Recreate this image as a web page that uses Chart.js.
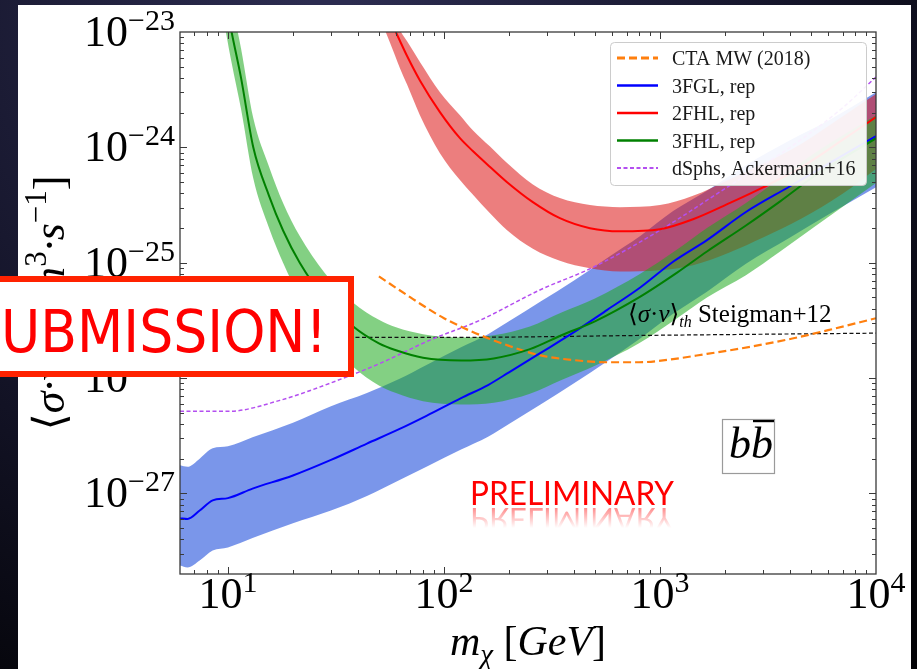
<!DOCTYPE html>
<html>
<head>
<meta charset="utf-8">
<script src="https://cdn.jsdelivr.net/npm/chart.js@4.4.1/dist/chart.umd.min.js"></script>
<style>
html, body { margin: 0; padding: 0; background: #0b0b16; }
canvas { display: block; }
</style>
</head>
<body>
<canvas id="sigmav" width="917" height="669"></canvas>
<script>
// values: mass in GeV, <sigma v> in cm^3/s

// 3FGL, rep (blue)
const mass3FGL = [6, 6.5, 7.4, 8.5, 10, 13, 20, 30, 44, 62, 83, 120, 160, 200, 280, 400, 570, 810, 1150, 1650, 2500, 4000, 6000, 10000];
const fgl3 = [6.1e-28, 6.0e-28, 7.1e-28, 8.7e-28, 9.1e-28, 1.1e-27, 1.43e-27, 1.95e-27, 2.7e-27, 3.6e-27, 4.7e-27, 6.7e-27, 8.7e-27, 1.12e-26, 1.65e-26, 2.5e-26, 3.9e-26, 6.1e-26, 1.02e-25, 1.57e-25, 2.75e-25, 4.6e-25, 7.2e-25, 1.25e-24];
const fgl3Hi = [1.75e-27, 1.7e-27, 2.0e-27, 2.46e-27, 2.56e-27, 3.06e-27, 4.1e-27, 5.7e-27, 7.4e-27, 9.8e-27, 1.3e-26, 1.85e-26, 2.4e-26, 3.1e-26, 4.6e-26, 7.0e-26, 1.1e-25, 1.7e-25, 2.8e-25, 4.2e-25, 7.0e-25, 1.15e-24, 1.7e-24, 3.0e-24];
const fgl3Lo = [2.37e-28, 2.28e-28, 2.62e-28, 3.2e-28, 3.4e-28, 4.1e-28, 5.5e-28, 7.1e-28, 9.5e-28, 1.3e-27, 1.7e-27, 2.4e-27, 3.1e-27, 4.0e-27, 5.9e-27, 9.0e-27, 1.4e-26, 2.2e-26, 3.6e-26, 5.6e-26, 9.8e-26, 1.65e-25, 2.6e-25, 4.5e-25];

// 2FHL, rep (red)
const mass2FHL = [53.3, 59.3, 62.5, 67.5, 77.4, 95.8, 118.6, 136, 163, 196, 258, 344, 474, 653, 1000, 1422, 2110, 3000, 4500, 7000, 10000];
const fhl2 = [1.59e-23, 1.04e-23, 8.4e-24, 6.19e-24, 3.8e-24, 2.02e-24, 1.2e-24, 9.3e-25, 6.8e-25, 4.99e-25, 3.35e-25, 2.43e-25, 1.99e-25, 1.87e-25, 1.95e-25, 2.38e-25, 3.3e-25, 4.5e-25, 6.7e-25, 1.16e-24, 1.83e-24];
const fhl2Hi = [2.3e-23, 1.3e-23, 1.04e-23, 8.3e-24, 5.5e-24, 3.01e-24, 1.9e-24, 1.41e-24, 1.02e-24, 7.3e-25, 4.77e-25, 3.63e-25, 3.16e-25, 3.03e-25, 3.16e-25, 3.8e-25, 5.3e-25, 7.2e-25, 1.07e-24, 1.85e-24, 2.9e-24];
const fhl2Lo = [1.04e-23, 6.3e-24, 4.87e-24, 3.5e-24, 1.9e-24, 8.9e-25, 5.2e-25, 3.9e-25, 2.69e-25, 1.91e-25, 1.32e-25, 1.04e-25, 8.95e-26, 8.4e-26, 8.6e-26, 9.5e-26, 1.23e-25, 1.65e-25, 2.4e-25, 3.95e-25, 6.5e-25];

// 3FHL, rep (green)
const mass3FHL = [9.5, 10.4, 11.5, 13.1, 15.5, 18, 21.5, 28, 38, 50, 60, 80, 120, 170, 250, 350, 500, 800, 1200, 1650, 2500, 3600, 5100, 10000];
const fhl3 = [2.5e-23, 1e-23, 4e-24, 1e-24, 3.8e-25, 1.9e-25, 1e-25, 4.9e-26, 2.8e-26, 2.0e-26, 1.74e-26, 1.5e-26, 1.42e-26, 1.48e-26, 1.78e-26, 2.35e-26, 3.1e-26, 5.0e-26, 8.2e-26, 1.25e-25, 2.1e-25, 3.4e-25, 5.5e-25, 1.2e-24];
const fhl3Hi = [4.5e-23, 1.8e-23, 7.2e-24, 1.8e-24, 6.8e-25, 3.3e-25, 1.7e-25, 8.2e-26, 4.5e-26, 3.2e-26, 2.75e-26, 2.4e-26, 2.25e-26, 2.35e-26, 2.8e-26, 3.7e-26, 4.9e-26, 7.9e-26, 1.3e-25, 2.0e-25, 3.3e-25, 5.4e-25, 8.7e-25, 1.9e-24];
const fhl3Lo = [1.35e-23, 5.4e-24, 2.15e-24, 5.4e-25, 2.0e-25, 1.0e-25, 5.0e-26, 2.3e-26, 1.25e-26, 8.6e-27, 7.4e-27, 6.3e-27, 5.9e-27, 6.1e-27, 7.3e-27, 9.6e-27, 1.28e-26, 2.0e-26, 3.3e-26, 5.0e-26, 7.8e-26, 1.25e-25, 2.0e-25, 4.9e-25];

// dSphs, Ackermann+16
const massDsph = [6, 10, 17.4, 29.6, 50.6, 86, 147, 278, 489, 1000, 2042, 4000, 7000, 10000];
const dsph = [5.14e-27, 5.14e-27, 6.4e-27, 9.0e-27, 1.34e-26, 2.13e-26, 3.17e-26, 5.8e-26, 9.1e-26, 1.91e-25, 4.5e-25, 1.0e-24, 2.2e-24, 4.07e-24];

// CTA MW (2018)
const massCta = [50, 70, 86, 100, 140, 200, 280, 400, 570, 800, 1150, 1650, 2350, 4100, 6000, 10000];
const cta = [7.6e-26, 5.0e-26, 3.9e-26, 3.3e-26, 2.45e-26, 1.9e-26, 1.57e-26, 1.43e-26, 1.37e-26, 1.37e-26, 1.46e-26, 1.62e-26, 1.8e-26, 2.2e-26, 2.6e-26, 3.3e-26];

// thermal relic, Steigman+12
const massThermal = [6, 100, 1000, 10000];
const thermal = [2.25e-26, 2.25e-26, 2.35e-26, 2.45e-26];

const xTickExp = [1, 2, 3, 4];
const yTickExp = [-27, -26, -25, -24, -23];
const legendOrder = ['CTA MW (2018)', '3FGL, rep', '2FHL, rep', '3FHL, rep', 'dSphs, Ackermann+16'];

const serif = '"Liberation Serif", "DejaVu Serif", serif';

function pts(xs, ys) {
  return xs.map(function(x, i) { return {x: x, y: ys[i]}; });
}

function band(ys, xs, target, color, order) {
  return {data: pts(xs, ys), borderWidth: 0, fill: target, backgroundColor: color, order: order};
}

function curve(label, xs, ys, color, width, dash, order) {
  return {label: label, data: pts(xs, ys), borderColor: color, borderWidth: width,
          borderDash: dash, fill: false, order: order};
}

let datasets = [
  band(fgl3Hi, mass3FGL, 1, 'rgba(65,105,225,0.7)', 10),
  band(fgl3Lo, mass3FGL, false, 'transparent', 10),
  band(fhl2Hi, mass2FHL, 3, 'rgba(220,20,20,0.55)', 9),
  band(fhl2Lo, mass2FHL, false, 'transparent', 9),
  band(fhl3Hi, mass3FHL, 5, 'rgba(30,170,30,0.55)', 8),
  band(fhl3Lo, mass3FHL, false, 'transparent', 8),
  curve('thermal', massThermal, thermal, '#111111', 1.2, [4, 2.5], 6),
  curve('dSphs, Ackermann+16', massDsph, dsph, '#b44ff0', 1.5, [4, 2.5], 5),
  curve('CTA MW (2018)', massCta, cta, '#ff7f0e', 2.2, [8, 4], 4),
  curve('3FGL, rep', mass3FGL, fgl3, '#0000ff', 2, [], 3),
  curve('3FHL, rep', mass3FHL, fhl3, '#008000', 2, [], 2),
  curve('2FHL, rep', mass2FHL, fhl2, '#ff0000', 2, [], 1)
];

// helpers for mixed-size text (superscripts, subscripts)
function richWidth(ctx, parts) {
  let w = 0;
  parts.forEach(function(p) { ctx.font = p.font; w += ctx.measureText(p.t).width; });
  return w;
}
function drawRich(ctx, parts, x, y) {
  parts.forEach(function(p) {
    ctx.font = p.font;
    ctx.fillText(p.t, x, y + (p.dy || 0));
    x += ctx.measureText(p.t).width;
  });
}
function powerParts(e) {
  let s = e < 0 ? '\u2212' + (-e) : String(e);
  return [{t: '10', font: '44px ' + serif}, {t: s, font: '30px ' + serif, dy: -16}];
}

const backdrop = {
  id: 'backdrop',
  beforeDraw(chart) {
    const ctx = chart.ctx;
    ctx.save();
    let g = ctx.createRadialGradient(330, 0, 20, 330, 0, 820);
    g.addColorStop(0, '#2c2c50');
    g.addColorStop(0.55, '#15152a');
    g.addColorStop(1, '#030306');
    ctx.fillStyle = g;
    ctx.fillRect(0, 0, chart.width, chart.height);
    ctx.fillStyle = '#ffffff';
    ctx.fillRect(18, 5, 893, 664);
    ctx.restore();
  }
};

const axesDeco = {
  id: 'axesDeco',
  afterDatasetsDraw(chart) {
    const ctx = chart.ctx, a = chart.chartArea, x = chart.scales.x, y = chart.scales.y;
    ctx.save();
    ctx.strokeStyle = '#3a3a3a';
    ctx.lineWidth = 1;
    ctx.beginPath();
    for (let e = 0; e <= 4; e++) {
      for (let k = 1; k <= 9; k++) {
        const v = k * Math.pow(10, e);
        if (v <= x.min * 1.0001 || v >= x.max * 0.9999) continue;
        const px = Math.round(x.getPixelForValue(v)) + 0.5;
        const len = k === 1 ? 7 : 4;
        ctx.moveTo(px, a.bottom); ctx.lineTo(px, a.bottom - len);
        ctx.moveTo(px, a.top); ctx.lineTo(px, a.top + len);
      }
    }
    for (let e = -28; e <= -23; e++) {
      for (let k = 1; k <= 9; k++) {
        const v = k * Math.pow(10, e);
        if (v <= y.min * 1.0001 || v >= y.max * 0.9999) continue;
        const py = Math.round(y.getPixelForValue(v)) + 0.5;
        const len = k === 1 ? 7 : 4;
        ctx.moveTo(a.left, py); ctx.lineTo(a.left + len, py);
        ctx.moveTo(a.right, py); ctx.lineTo(a.right - len, py);
      }
    }
    ctx.stroke();
    ctx.lineWidth = 1.3;
    ctx.strokeRect(a.left, a.top, a.right - a.left, a.bottom - a.top);

    // tick labels
    ctx.fillStyle = '#000000';
    ctx.textAlign = 'left';
    ctx.textBaseline = 'alphabetic';
    xTickExp.forEach(function(e) {
      const parts = powerParts(e);
      const w = richWidth(ctx, parts);
      drawRich(ctx, parts, x.getPixelForValue(Math.pow(10, e)) - w / 2, a.bottom + 34);
    });
    yTickExp.forEach(function(e) {
      const parts = powerParts(e);
      const w = richWidth(ctx, parts);
      drawRich(ctx, parts, a.left - 5 - w, y.getPixelForValue(Math.pow(10, e)) + 14);
    });

    // axis titles
    const it = 'italic 42px ' + serif, up = '42px ' + serif;
    const xt = [{t: 'm', font: it}, {t: '\u03c7', font: 'italic 29px ' + serif, dy: 9},
                {t: ' [', font: up}, {t: 'GeV', font: it}, {t: ']', font: up}];
    const xw = richWidth(ctx, xt);
    drawRich(ctx, xt, (a.left + a.right) / 2 - xw / 2, 655);

    const yi = 'italic 44px ' + serif, yu = '44px ' + serif, ys = '31px ' + serif;
    const yt = [{t: '\u27e8', font: yu}, {t: '\u03c3\u00b7v', font: yi}, {t: '\u27e9 [', font: yu},
                {t: 'cm', font: yi}, {t: '3', font: ys, dy: -18},
                {t: '\u00b7s', font: yi}, {t: '\u22121', font: ys, dy: -18},
                {t: ']', font: yu}];
    const yw = richWidth(ctx, yt);
    ctx.save();
    ctx.translate(64, (a.top + a.bottom) / 2);
    ctx.rotate(-Math.PI / 2);
    drawRich(ctx, yt, -yw / 2, 0);
    ctx.restore();

    // thermal annotation
    const sm = '25px ' + serif, si = 'italic 25px ' + serif;
    drawRich(ctx, [{t: '\u27e8', font: sm}, {t: '\u03c3', font: si}, {t: '\u00b7', font: sm},
                   {t: 'v', font: si}, {t: '\u27e9', font: sm}, {t: 'th', font: 'italic 16px ' + serif, dy: 5},
                   {t: ' Steigman+12', font: sm}], 628, 322);

    // b bbar box
    ctx.strokeStyle = '#9a9a9a';
    ctx.lineWidth = 1.2;
    ctx.strokeRect(722.5, 419.5, 52, 54);
    ctx.font = 'italic 44px ' + serif;
    const wb = ctx.measureText('b').width;
    ctx.fillText('bb', 729, 458);
    ctx.fillRect(729 + wb + 2, 420, wb - 1, 2.2);
    ctx.restore();
  }
};

const overlay = {
  id: 'overlay',
  afterDraw(chart) {
    const ctx = chart.ctx;
    ctx.save();

    // legend box
    ctx.fillStyle = 'rgba(255,255,255,0.92)';
    ctx.strokeStyle = '#cccccc';
    ctx.lineWidth = 1;
    ctx.beginPath();
    ctx.roundRect(610.5, 42.5, 256, 143, 4);
    ctx.fill();
    ctx.stroke();
    legendOrder.forEach(function(name, i) {
      const ds = chart.data.datasets.find(function(d) { return d.label === name; });
      const yy = 58 + i * 27.5;
      ctx.strokeStyle = ds.borderColor;
      ctx.lineWidth = ds.borderWidth + 0.6;
      ctx.setLineDash(ds.borderDash);
      ctx.beginPath();
      ctx.moveTo(617, yy); ctx.lineTo(658, yy);
      ctx.stroke();
      ctx.setLineDash([]);
      ctx.fillStyle = '#1a1a1a';
      ctx.font = '20px ' + serif;
      ctx.textBaseline = 'alphabetic';
      ctx.fillText(name, 672, yy + 7);
    });

    // PRELIMINARY stamp with its reflection
    ctx.font = '32px Lato, "DejaVu Sans", sans-serif';
    const pw = ctx.measureText('PRELIMINARY').width;
    ctx.save();
    ctx.translate(470, 505);
    ctx.scale(204 / pw, 1);
    ctx.fillStyle = '#ff0000';
    ctx.fillText('PRELIMINARY', 0, 0);
    ctx.scale(1, -1);
    ctx.translate(0, -3);
    let rg = ctx.createLinearGradient(0, 0, 0, -20);
    rg.addColorStop(0, 'rgba(255,0,0,0.45)');
    rg.addColorStop(1, 'rgba(255,0,0,0)');
    ctx.fillStyle = rg;
    ctx.fillText('PRELIMINARY', 0, 0);
    ctx.restore();

    // SUBMISSION! banner
    ctx.fillStyle = '#ffffff';
    ctx.fillRect(-10, 279, 361, 95);
    ctx.strokeStyle = '#ff2200';
    ctx.lineWidth = 6;
    ctx.strokeRect(-10, 279, 361, 95);
    ctx.font = '58px "DejaVu Sans", sans-serif';
    const uw = ctx.measureText('UBMISSION!').width;
    ctx.translate(327, 352);
    ctx.scale(326 / uw, 1);
    ctx.textAlign = 'right';
    ctx.fillStyle = '#ff0000';
    ctx.fillText('SUBMISSION!', 0, 0);
    ctx.restore();
  }
};

new Chart(document.getElementById('sigmav').getContext('2d'), {
  type: 'line',
  data: {datasets: datasets},
  options: {
    responsive: false,
    animation: false,
    layout: {padding: {left: 180, right: 41, top: 32, bottom: 95}},
    elements: {
      point: {radius: 0, hoverRadius: 0},
      line: {cubicInterpolationMode: 'monotone', borderJoinStyle: 'round'}
    },
    scales: {
      x: {type: 'logarithmic', min: 6, max: 10000, display: false},
      y: {type: 'logarithmic', min: 2e-28, max: 1e-23, display: false}
    },
    plugins: {
      legend: {display: false},
      tooltip: {enabled: false}
    }
  },
  plugins: [backdrop, axesDeco, overlay]
});
</script>
</body>
</html>
